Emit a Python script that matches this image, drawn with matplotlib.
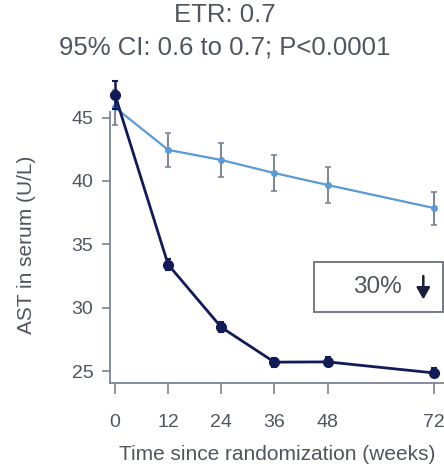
import matplotlib
matplotlib.use('Agg')
import matplotlib.pyplot as plt
from matplotlib.patches import Rectangle

plt.rcParams['font.family'] = ['Liberation Sans', 'DejaVu Sans']

weeks = [0, 12, 24, 36, 48, 72]
treated = [46.8, 33.4, 28.45, 25.7, 25.72, 24.85]
treated_err = [1.1, 0.45, 0.4, 0.35, 0.35, 0.35]
control = [45.8, 42.45, 41.65, 40.62, 39.68, 37.86]
control_err = [1.4, 1.35, 1.35, 1.45, 1.4, 1.3]
xticks = [0, 12, 24, 36, 48, 72]
yticks = [25, 30, 35, 40, 45]

txt = '#50555f'
navy = '#121a58'
light = '#5a9ad6'
spine = '#7c8494'

fig = plt.figure(figsize=(4.44, 4.66), dpi=100)
ax = fig.add_axes([0.248, 0.178, 0.752, 0.582])

e1 = ax.errorbar(weeks, control, yerr=control_err, color=light, lw=1.6,
                 marker='o', ms=4, ecolor='#7a8595', elinewidth=1.4,
                 capsize=2.5, capthick=1.2, zorder=2)
e2 = ax.errorbar(weeks, treated, yerr=treated_err, color=navy, lw=2,
                 marker='o', ms=7, ecolor=navy, elinewidth=1.8,
                 capsize=2.5, capthick=1.5, zorder=3)
for e in (e1, e2):
    for art in [e[0]] + list(e[1]) + list(e[2]):
        art.set_clip_on(False)

ax.set_xlim(-1.1, 74.3)
ax.set_ylim(24.05, 45.45)
ax.set_xticks(xticks)
ax.set_yticks(yticks)
ax.tick_params(axis='x', length=8, width=1.2, color=spine, pad=14,
               labelsize=14, labelcolor=txt)
ax.tick_params(axis='y', length=6, width=1.2, color=spine, pad=6,
               labelsize=14, labelcolor=txt)
for s in ['top', 'right']:
    ax.spines[s].set_visible(False)
for s in ['left', 'bottom']:
    ax.spines[s].set_color(spine)
    ax.spines[s].set_linewidth(1.3)

ax.set_xlabel('Time since randomization (weeks)', fontsize=15, color=txt)
ax.xaxis.set_label_coords(0.5, -0.228)
fig.text(26 / 444, 0.475, 'AST in serum (U/L)', rotation=90, ha='center',
         va='center', fontsize=15, color=txt)

fig.text(0.507, 0.967, 'ETR: 0.7', ha='center', va='center', fontsize=18.5,
         color=txt)
fig.text(0.507, 0.897, '95% CI: 0.6 to 0.7; P<0.0001', ha='center',
         va='center', fontsize=18.5, color=txt)

ax.add_patch(Rectangle((0.611, 0.262), 0.386, 0.184, transform=ax.transAxes,
                       fill=False, edgecolor='#6a6f78', lw=1.3, clip_on=False))
ax.text(0.80, 0.354, '30%', transform=ax.transAxes, ha='center', va='center',
        fontsize=17.5, color=txt)
ax.annotate('', xy=(0.938, 0.298), xytext=(0.938, 0.405),
            xycoords='axes fraction',
            arrowprops=dict(arrowstyle='-|>,head_length=0.7,head_width=0.4',
                            color='#1c1f3a', lw=1.8))

fig.savefig('out.png', dpi=100)
